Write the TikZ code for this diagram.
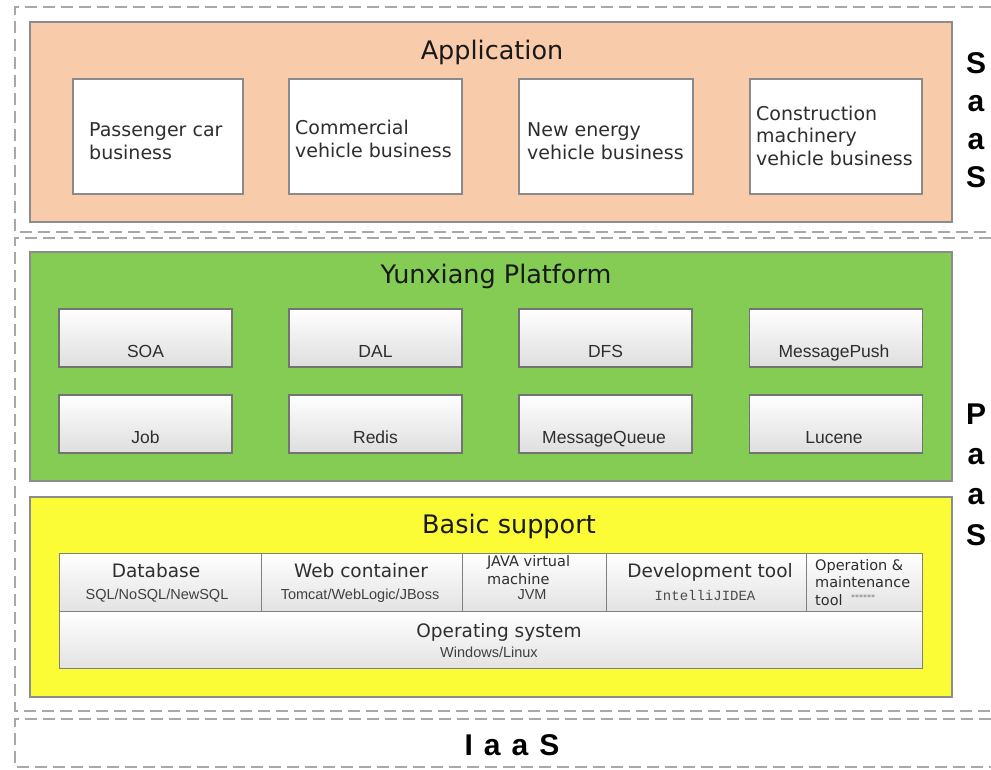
\documentclass[tikz,border=0pt]{standalone}
\usepackage{fontspec}
\setmainfont{DejaVu Sans}
\newfontfamily\arialf{Liberation Sans}
\newfontfamily\monof{Liberation Mono}
\definecolor{peach}{HTML}{F8CBAA}
\definecolor{leaf}{HTML}{84CC54}
\definecolor{lemon}{HTML}{FCFC36}
\definecolor{framegray}{HTML}{A8A8A8}
\definecolor{boxline}{HTML}{8A8A8A}
\definecolor{txt}{HTML}{2E2E2E}
\begin{document}
\begin{tikzpicture}[x=1pt,y=-1pt,
  frame/.style={draw=framegray, line width=1.8pt, dash pattern=on 12pt off 6pt},
  layer/.style={draw=black!45, line width=1.2pt, inner sep=0pt},
  whitebox/.style={draw=boxline, line width=1.5pt, fill=white, inner sep=0pt,
     minimum height=115pt},
  graybox/.style={draw=black!55, line width=1.2pt, top color=white, bottom color=black!13,
     inner sep=0pt, minimum width=173pt, minimum height=58pt},
  cell/.style={draw=black!50, line width=1pt, top color=white, bottom color=black!11,
     inner sep=0pt},
  ttl/.style={anchor=base, font=\fontsize{25.5}{30}\selectfont, text=black!90},
  bizt/.style={anchor=west, align=left, font=\fontsize{19}{22.5}\selectfont, text=txt, inner sep=0pt},
  gtxt/.style={anchor=base, font=\arialf\fontsize{17.5}{20}\selectfont, text=txt},
  ctitle/.style={anchor=base, font=\fontsize{18.5}{22}\selectfont, text=txt, inner sep=0pt},
  csub/.style={anchor=base, font=\arialf\fontsize{14.5}{17}\selectfont, text=black!75, inner sep=0pt},
  csmall/.style={anchor=base west, font=\fontsize{14.5}{17}\selectfont, text=txt, inner sep=0pt},
  side/.style={anchor=base, font=\arialf\bfseries\fontsize{30}{34}\selectfont, text=black}
]
\useasboundingbox (0,0) rectangle (991,769);
\fill[white] (0,0) rectangle (991,769);

% dashed tier frames
\draw[frame] (991,7) -- (15,7) -- (15,232) -- (991,232);
\draw[frame] (991,238) -- (15,238) -- (15,711) -- (991,711);
\draw[frame] (991,719) -- (15,719) -- (15,767) -- (991,767);

% ---------- Application ----------
\node[layer, fill=peach, minimum width=922pt, minimum height=200pt] (app) at (491,122) {};
\node[ttl] (apptitle) at (492,59) {Application};
\node[whitebox, minimum width=170pt] (pcb) at (158,136.5) {};
\node[whitebox, minimum width=173pt] (cvb) at (375.5,136.5) {};
\node[whitebox, minimum width=174pt] (nevb) at (606,136.5) {};
\node[whitebox, minimum width=172pt] (cmvb) at (836,136.5) {};
\node[bizt] (pcbt) at (89,141) {Passenger car\\business};
\node[bizt] (cvbt) at (295,139) {Commercial\\vehicle business};
\node[bizt] (nevbt) at (527,141) {New energy\\vehicle business};
\node[bizt] (cmvbt) at (756,135.5) {Construction\\machinery\\vehicle business};

% SaaS
\node[side] (s1) at (976,73) {S};
\node[side] (s2) at (976,111) {a};
\node[side] (s3) at (976,149) {a};
\node[side] (s4) at (976,187) {S};

% ---------- Yunxiang Platform ----------
\node[layer, fill=leaf, minimum width=922pt, minimum height=229pt] (yx) at (491,366.5) {};
\node[ttl] (yxtitle) at (496,283) {Yunxiang Platform};
\node[graybox] (soa) at (145.5,338) {};
\node[graybox] (dal) at (375.5,338) {};
\node[graybox] (dfs) at (605.5,338) {};
\node[graybox] (mpush) at (836,338) {};
\node[graybox] (job) at (145.5,424) {};
\node[graybox] (redis) at (375.5,424) {};
\node[graybox] (mq) at (605.5,424) {};
\node[graybox] (lucene) at (836,424) {};
\node[gtxt] at (145.5,357.5) {SOA};
\node[gtxt] at (375.5,357.5) {DAL};
\node[gtxt] at (605.5,357.5) {DFS};
\node[gtxt] at (834,357.5) {MessagePush};
\node[gtxt] at (145.5,443) {Job};
\node[gtxt] at (375.5,443) {Redis};
\node[gtxt] at (604,443) {MessageQueue};
\node[gtxt] at (834,443) {Lucene};

% PaaS
\node[side] (p1) at (976,424) {P};
\node[side] (p2) at (976,464) {a};
\node[side] (p3) at (976,504) {a};
\node[side] (p4) at (976,545) {S};

% ---------- Basic support ----------
\node[layer, fill=lemon, minimum width=922pt, minimum height=200pt] (bs) at (491,597) {};
\node[ttl] (bstitle) at (509,533) {Basic support};
\node[cell, minimum width=202pt, minimum height=58pt] (db) at (160,582) {};
\node[cell, minimum width=201pt, minimum height=58pt] (web) at (361.5,582) {};
\node[cell, minimum width=144pt, minimum height=58pt] (jvm) at (534,582) {};
\node[cell, minimum width=200pt, minimum height=58pt] (dev) at (706,582) {};
\node[cell, minimum width=116pt, minimum height=58pt] (ops) at (864,582) {};
\node[cell, minimum width=863pt, minimum height=57pt] (os) at (490.5,639.5) {};

\node[ctitle] at (156,577) {Database};
\node[csub] at (157,599) {SQL/NoSQL/NewSQL};
\node[ctitle] at (361,577) {Web container};
\node[csub] at (360,599.5) {Tomcat/WebLogic/JBoss};
\node[csmall] at (487,566) {JAVA virtual};
\node[csmall] at (487,584) {machine};
\node[csub] at (532,599) {JVM};
\node[ctitle] at (710,577) {Development tool};
\node[anchor=base, font=\monof\fontsize{14}{16}\selectfont, text=black!70, inner sep=0pt] at (705,600) {IntelliJIDEA};
\node[csmall] at (815,570) {Operation \&};
\node[csmall] at (815,587.5) {maintenance};
\node[csmall] (tool) at (815,605) {tool};
\node[anchor=base west, font=\fontsize{8}{9}\selectfont, text=black!55, inner sep=0pt] at (851,600) {******};
\node[ctitle] at (499,637) {Operating system};
\node[csub] at (489,657) {Windows/Linux};

% IaaS
\node[anchor=base, font=\arialf\bfseries\fontsize{30}{34}\selectfont, text=black, inner sep=0pt] (iaas) at (512,755)
  {I\hspace{11pt}a\hspace{11pt}a\hspace{11pt}S};
\end{tikzpicture}
\end{document}
